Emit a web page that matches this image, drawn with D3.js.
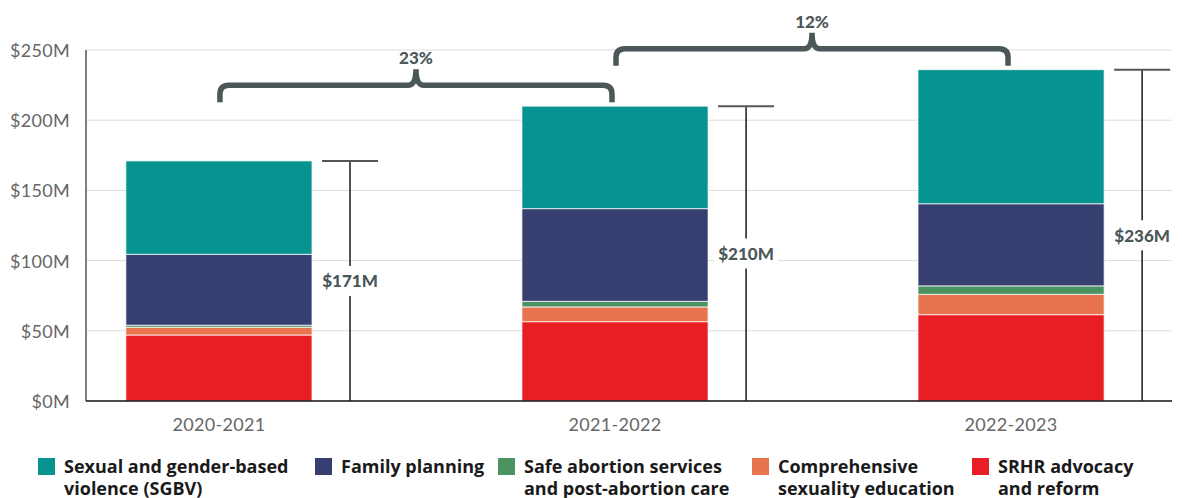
<!DOCTYPE html>
<html>
<head>
<meta charset="utf-8">
<script src="https://cdn.jsdelivr.net/npm/d3@7"></script>
<style>
  html, body { margin: 0; padding: 0; background: #fff; }
  svg { display: block; }
</style>
</head>
<body>
<svg id="chart" width="1182" height="498"></svg>
<script>
// Funding by thematic area, per financial year (US$ millions)
const years = ["2020-2021", "2021-2022", "2022-2023"];
const seriesNames = [
  "SRHR advocacy and reform",
  "Comprehensive sexuality education",
  "Safe abortion services and post-abortion care",
  "Family planning",
  "Sexual and gender-based violence (SGBV)"
];
const srhrAdvocacy   = [47, 56.5, 61.5];
const sexEducation   = [5.5, 10.5, 14.5];
const safeAbortion   = [1.5, 4, 6];
const familyPlanning = [50.5, 66, 58.5];
const sgbv           = [66.5, 73, 95.5];
const yTicks = [0, 50, 100, 150, 200, 250];

const seriesColors = ["#e91e25", "#e8734f", "#4b9361", "#363f70", "#079490"];
const legendOrder = [4, 3, 2, 1, 0];
const legendLines = [
  ["SRHR advocacy", "and reform"],
  ["Comprehensive", "sexuality education"],
  ["Safe abortion services", "and post-abortion care"],
  ["Family planning"],
  ["Sexual and gender-based", "violence (SGBV)"]
];

const seriesValues = [srhrAdvocacy, sexEducation, safeAbortion, familyPlanning, sgbv];
const rows = years.map((y, i) => {
  const r = { year: y };
  seriesNames.forEach((n, k) => { r[n] = seriesValues[k][i]; });
  return r;
});
const totals = rows.map(r => d3.sum(seriesNames, n => r[n]));

const svg = d3.select("#chart");
const grey = "#4b5758";

const x = d3.scaleBand().domain(years).range([86, 1172])
  .paddingInner(0.53).paddingOuter(0.136).align(0.37);
const y = d3.scaleLinear().domain([0, 250]).range([401, 50]);

// gridlines
svg.append("g").selectAll("line").data(yTicks.filter(d => d > 0)).join("line")
  .attr("x1", 86).attr("x2", 1172)
  .attr("y1", d => y(d)).attr("y2", d => y(d))
  .attr("stroke", "#dcdcdc").attr("stroke-width", 1);

// y tick labels
svg.append("g").selectAll("text").data(yTicks).join("text")
  .attr("x", 70).attr("y", d => y(d))
  .attr("text-anchor", "end").attr("dominant-baseline", "central")
  .attr("font-family", "Lato").attr("font-size", 18).attr("letter-spacing", 0.3)
  .attr("fill", "#666")
  .text(d => `$${d}M`);

// stacked bars
const stack = d3.stack().keys(seriesNames)(rows);
svg.append("g").selectAll("g").data(stack).join("g")
  .attr("fill", (d, i) => seriesColors[i])
  .selectAll("rect").data(d => d).join("rect")
  .attr("x", d => x(d.data.year))
  .attr("width", x.bandwidth())
  .attr("y", d => y(d[1]))
  .attr("height", d => y(d[0]) - y(d[1]))
  .attr("stroke", "rgba(255,255,255,0.75)").attr("stroke-width", 1);

// axes lines
svg.append("line").attr("x1", 86).attr("x2", 86).attr("y1", 50).attr("y2", 401)
  .attr("stroke", "#555").attr("stroke-width", 1.5);
svg.append("line").attr("x1", 86).attr("x2", 1172).attr("y1", 401).attr("y2", 401)
  .attr("stroke", "#111").attr("stroke-width", 1.5);

// x labels
svg.append("g").selectAll("text").data(years).join("text")
  .attr("x", d => x(d) + x.bandwidth() / 2).attr("y", 431)
  .attr("text-anchor", "middle")
  .attr("font-family", "Lato").attr("font-size", 18).attr("letter-spacing", 0.3)
  .attr("fill", "#666")
  .text(d => d);

// total markers beside each bar
const totalG = svg.append("g").selectAll("g").data(years).join("g");
totalG.each(function (yr, i) {
  const g = d3.select(this);
  const lx = x(yr) + x.bandwidth() + 38;
  const top = y(totals[i]);
  const bottom = y(0);
  const mid = (top + bottom) / 2;
  g.append("line").attr("x1", lx).attr("x2", lx).attr("y1", top).attr("y2", bottom)
    .attr("stroke", "#1a1a1a").attr("stroke-width", 1.5);
  g.append("line").attr("x1", lx - 28).attr("x2", lx + 28).attr("y1", top).attr("y2", top)
    .attr("stroke", "#555").attr("stroke-width", 2);
  g.append("rect").attr("x", lx - 32).attr("y", mid - 15).attr("width", 64).attr("height", 30)
    .attr("fill", "#fff");
  g.append("text").attr("x", lx).attr("y", mid).attr("text-anchor", "middle")
    .attr("dominant-baseline", "central")
    .attr("font-family", "Lato").attr("font-weight", 900).attr("font-size", 17)
    .attr("fill", grey).text(`$${Math.round(totals[i])}M`);
});

// growth braces between consecutive years
function bracePath(x1, x2, yb, yh, ypk) {
  const xm = (x1 + x2) / 2, r = 9, r2 = 8;
  return `M${x1},${yb} V${yh + r} Q${x1},${yh} ${x1 + r},${yh} H${xm - r2} Q${xm},${yh} ${xm},${ypk}` +
    ` Q${xm},${yh} ${xm + r2},${yh} H${x2 - r} Q${x2},${yh} ${x2},${yh + r} V${yb}`;
}
for (let i = 1; i < years.length; i++) {
  const x1 = x(years[i - 1]) + x.bandwidth() / 2 + 1;
  const x2 = x(years[i]) + x.bandwidth() / 2 - 3;
  const yb = Math.min(y(totals[i - 1]), y(totals[i])) - 4;
  const yh = yb - 17;
  const ypk = yh - 16;
  svg.append("path").attr("d", bracePath(x1, x2, yb, yh, ypk))
    .attr("fill", "none").attr("stroke", grey).attr("stroke-width", 5.5);
  const pct = Math.round((totals[i] - totals[i - 1]) / totals[i - 1] * 100);
  svg.append("text").attr("x", (x1 + x2) / 2).attr("y", ypk - 5)
    .attr("text-anchor", "middle")
    .attr("font-family", "Lato").attr("font-weight", 900).attr("font-size", 17)
    .attr("fill", grey).text(`${pct}%`);
}

// legend
const legendX = [38, 315, 498, 752, 972];
const legend = svg.append("g").selectAll("g").data(legendOrder).join("g")
  .attr("transform", (k, j) => `translate(${legendX[j]},458)`);
legend.append("rect").attr("width", 17).attr("height", 17)
  .attr("fill", k => seriesColors[k]);
legend.each(function (k) {
  const t = d3.select(this).append("text")
    .attr("font-family", "Open Sans").attr("font-weight", 700).attr("font-size", 18)
    .attr("fill", "#1a1a1a");
  legendLines[k].forEach((ln, li) => {
    t.append("tspan").attr("x", 26).attr("y", 15 + li * 21.5).text(ln);
  });
});
</script>
</body>
</html>
